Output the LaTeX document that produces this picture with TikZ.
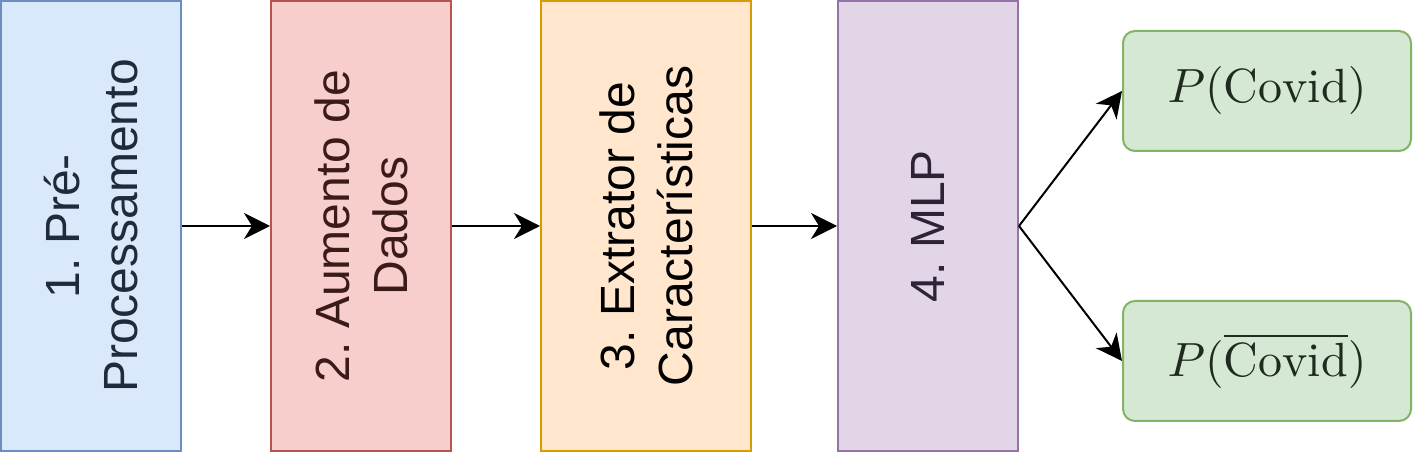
\documentclass[tikz,border=0pt]{standalone}
\usepackage{fontspec}
\setsansfont{Liberation Sans}
\usetikzlibrary{arrows.meta}
\frenchspacing

\definecolor{blueFill}{HTML}{DAE8FC}
\definecolor{blueLine}{HTML}{6C8EBF}
\definecolor{blueText}{HTML}{1F2A3A}
\definecolor{redFill}{HTML}{F8CECC}
\definecolor{redLine}{HTML}{B85450}
\definecolor{redText}{HTML}{3B1A1A}
\definecolor{orangeFill}{HTML}{FFE6CC}
\definecolor{orangeLine}{HTML}{D79B00}
\definecolor{purpleFill}{HTML}{E1D5E7}
\definecolor{purpleLine}{HTML}{9673A6}
\definecolor{purpleText}{HTML}{2E2238}
\definecolor{greenFill}{HTML}{D5E8D4}
\definecolor{greenLine}{HTML}{82B366}
\definecolor{greenText}{HTML}{1E2B1E}

\tikzset{
  stagebox/.style={draw, line width=1pt, rotate=90, minimum width=225pt, inner sep=0pt, align=center, font=\sffamily\fontsize{24}{29}\selectfont},
  outbox/.style={draw=greenLine, fill=greenFill, text=greenText, line width=1pt, rounded corners=6pt, minimum width=144pt, minimum height=60pt, inner sep=0pt},
  flow/.style={-{Stealth[length=13pt,width=13pt,inset=4pt]}, line width=1pt}
}

\begin{document}
\begin{tikzpicture}[x=0.5pt,y=0.5pt,yscale=-1,xscale=1]
\useasboundingbox (0,0) rectangle (1413,453);

%Shape: Rectangle [prep]
\node [stagebox, draw=blueLine, fill=blueFill, text=blueText, minimum height=90pt] (prep) at (91,226) {1. Pré-\\Processamento};
%Shape: Rectangle [aug]
\node [stagebox, draw=redLine, fill=redFill, text=redText, minimum height=90pt] (aug) at (361,226) {2. Aumento de\\Dados};
%Shape: Rectangle [feat]
\node [stagebox, draw=orangeLine, fill=orangeFill, text=black, minimum height=105pt] (feat) at (646,226) {3. Extrator de\\Características};
%Shape: Rectangle [mlp]
\node [stagebox, draw=purpleLine, fill=purpleFill, text=purpleText, minimum height=90pt] (mlp) at (928,226) {4. MLP};

%Shape: Rounded Rectangle [pcov]
\node [outbox] (pcov) at (1267,91) {\scalebox{2.4}{$P(\mathrm{Covid})$}};
%Shape: Rounded Rectangle [pneg]
\node [outbox] (pneg) at (1267,361) {\scalebox{2.4}{$P(\overline{\mathrm{Covid}})$}};

%Straight Lines
\draw [flow] (prep) -- (aug);
\draw [flow] (aug) -- (feat);
\draw [flow] (feat) -- (mlp);
\draw [flow] (mlp.south) -- (pcov.west);
\draw [flow] (mlp.south) -- (pneg.west);

\end{tikzpicture}
\end{document}
